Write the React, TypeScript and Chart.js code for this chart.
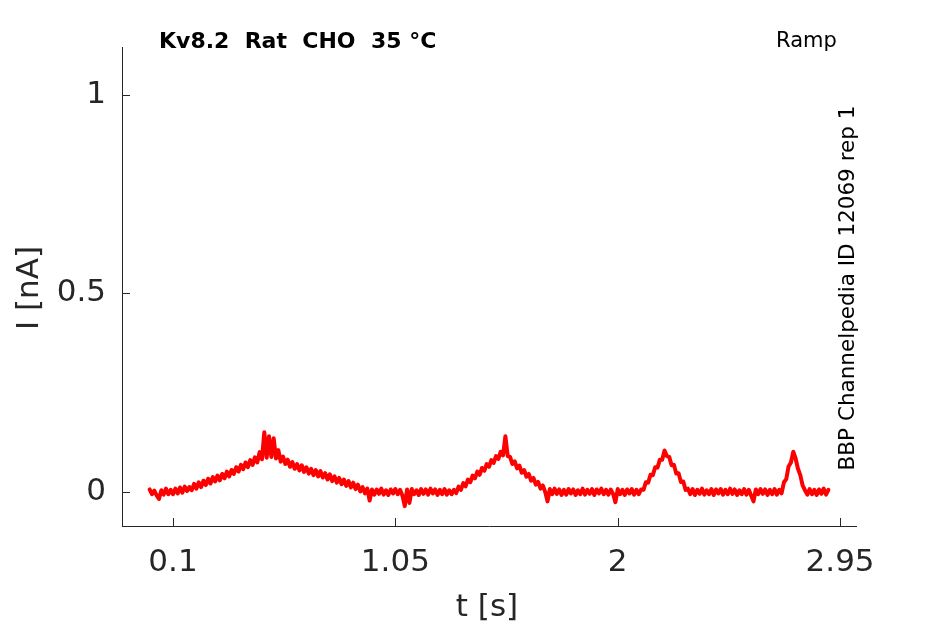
import { useEffect, useRef } from 'react';
import { Chart, registerables } from 'chart.js';

Chart.register(...registerables);

const timeS = [
  0.0, 0.01, 0.02, 0.03, 0.04, 0.05, 0.06, 0.07, 0.08, 0.09,
  0.1, 0.11, 0.12, 0.13, 0.14, 0.15, 0.16, 0.17, 0.18, 0.19,
  0.2, 0.21, 0.22, 0.23, 0.24, 0.25, 0.26, 0.27, 0.28, 0.29,
  0.3, 0.31, 0.32, 0.33, 0.34, 0.35, 0.36, 0.37, 0.38, 0.39,
  0.4, 0.41, 0.42, 0.43, 0.44, 0.45, 0.46, 0.47, 0.48, 0.49,
  0.5, 0.51, 0.52, 0.53, 0.54, 0.55, 0.56, 0.57, 0.58, 0.59,
  0.6, 0.61, 0.62, 0.63, 0.64, 0.65, 0.66, 0.67, 0.68, 0.69,
  0.7, 0.71, 0.72, 0.73, 0.74, 0.75, 0.76, 0.77, 0.78, 0.79,
  0.8, 0.81, 0.82, 0.83, 0.84, 0.85, 0.86, 0.87, 0.88, 0.89,
  0.9, 0.91, 0.92, 0.93, 0.94, 0.95, 0.96, 0.97, 0.98, 0.99,
  1.0, 1.01, 1.02, 1.03, 1.04, 1.05, 1.06, 1.07, 1.08, 1.09,
  1.1, 1.11, 1.12, 1.13, 1.14, 1.15, 1.16, 1.17, 1.18, 1.19,
  1.2, 1.21, 1.22, 1.23, 1.24, 1.25, 1.26, 1.27, 1.28, 1.29,
  1.3, 1.31, 1.32, 1.33, 1.34, 1.35, 1.36, 1.37, 1.38, 1.39,
  1.4, 1.41, 1.42, 1.43, 1.44, 1.45, 1.46, 1.47, 1.48, 1.49,
  1.5, 1.51, 1.52, 1.53, 1.54, 1.55, 1.56, 1.57, 1.58, 1.59,
  1.6, 1.61, 1.62, 1.63, 1.64, 1.65, 1.66, 1.67, 1.68, 1.69,
  1.7, 1.71, 1.72, 1.73, 1.74, 1.75, 1.76, 1.77, 1.78, 1.79,
  1.8, 1.81, 1.82, 1.83, 1.84, 1.85, 1.86, 1.87, 1.88, 1.89,
  1.9, 1.91, 1.92, 1.93, 1.94, 1.95, 1.96, 1.97, 1.98, 1.99,
  2.0, 2.01, 2.02, 2.03, 2.04, 2.05, 2.06, 2.07, 2.08, 2.09,
  2.1, 2.11, 2.12, 2.13, 2.14, 2.15, 2.16, 2.17, 2.18, 2.19,
  2.2, 2.21, 2.22, 2.23, 2.24, 2.25, 2.26, 2.27, 2.28, 2.29,
  2.3, 2.31, 2.32, 2.33, 2.34, 2.35, 2.36, 2.37, 2.38, 2.39,
  2.4, 2.41, 2.42, 2.43, 2.44, 2.45, 2.46, 2.47, 2.48, 2.49,
  2.5, 2.51, 2.52, 2.53, 2.54, 2.55, 2.56, 2.57, 2.58, 2.59,
  2.6, 2.61, 2.62, 2.63, 2.64, 2.65, 2.66, 2.67, 2.68, 2.69,
  2.7, 2.71, 2.72, 2.73, 2.74, 2.75, 2.76, 2.77, 2.78, 2.79,
  2.8, 2.81, 2.82, 2.83, 2.84, 2.85, 2.86, 2.87, 2.88, 2.89,
  2.9,
];

const currentNA = [
  0.006, -0.006, 0.003, -0.009, -0.018, 0.004, -0.007, 0.008, -0.006, 0.005,
  -0.006, 0.008, -0.004, 0.011, -0.002, 0.013, 0.002, 0.012, 0.004, 0.02,
  0.008, 0.024, 0.012, 0.028, 0.017, 0.033, 0.021, 0.037, 0.026, 0.041,
  0.029, 0.045, 0.034, 0.051, 0.039, 0.055, 0.045, 0.062, 0.051, 0.068,
  0.057, 0.074, 0.062, 0.08, 0.068, 0.087, 0.074, 0.1, 0.082, 0.15,
  0.086, 0.14, 0.088, 0.135, 0.084, 0.105, 0.076, 0.089, 0.07, 0.081,
  0.063, 0.075, 0.058, 0.07, 0.054, 0.067, 0.05, 0.062, 0.046, 0.058,
  0.042, 0.055, 0.039, 0.052, 0.036, 0.047, 0.031, 0.044, 0.027, 0.039,
  0.023, 0.035, 0.019, 0.031, 0.015, 0.027, 0.011, 0.023, 0.007, 0.018,
  0.001, 0.012, -0.004, 0.008, -0.022, 0.006, -0.007, 0.006, -0.005, 0.008,
  -0.007, 0.004, -0.008, 0.006, -0.004, 0.007, -0.006, 0.005, -0.009, -0.036,
  0.006, -0.028, 0.007, -0.006, 0.004, -0.008, 0.007, -0.005, 0.006, -0.007,
  0.008, -0.004, 0.006, -0.008, 0.005, -0.006, 0.007, -0.007, 0.004, -0.006,
  0.005, -0.003, 0.013, 0.005, 0.022, 0.014, 0.031, 0.024, 0.041, 0.034,
  0.051, 0.043, 0.06, 0.053, 0.07, 0.063, 0.08, 0.073, 0.09, 0.083,
  0.101, 0.092, 0.14, 0.09, 0.088, 0.07, 0.077, 0.059, 0.066, 0.048,
  0.055, 0.038, 0.045, 0.028, 0.035, 0.018, 0.025, 0.008, 0.016, 0.0,
  -0.024, 0.007, -0.006, 0.008, -0.005, 0.006, -0.008, 0.005, -0.007, 0.007,
  -0.004, 0.006, -0.008, 0.004, -0.006, 0.008, -0.007, 0.005, -0.005, 0.007,
  -0.008, 0.006, -0.004, 0.008, -0.006, 0.005, -0.007, 0.006, -0.005, -0.026,
  0.007, -0.006, 0.005, -0.008, 0.006, -0.004, 0.007, -0.007, 0.005, -0.006,
  0.006, 0.005, 0.024, 0.023, 0.043, 0.042, 0.062, 0.061, 0.081, 0.081,
  0.104, 0.09, 0.088, 0.067, 0.068, 0.046, 0.047, 0.025, 0.026, 0.005,
  0.008, -0.006, 0.007, -0.008, 0.005, -0.005, 0.008, -0.007, 0.004, -0.006,
  0.007, -0.008, 0.006, -0.004, 0.007, -0.007, 0.005, -0.006, 0.008, -0.005,
  0.006, -0.008, 0.004, -0.006, 0.007, -0.007, 0.005, -0.009, -0.024, 0.006,
  -0.006, 0.007, -0.005, 0.006, -0.008, 0.005, -0.006, 0.007, -0.007, 0.005,
  -0.004, 0.024, 0.032, 0.064, 0.074, 0.101, 0.084, 0.058, 0.042, 0.016,
  0.004, -0.007, 0.007, -0.006, 0.005, -0.008, 0.006, -0.005, 0.008, -0.007,
  0.005,
];

const xTicks = [0.1, 1.05, 2, 2.95];
const yTicks = [0, 0.5, 1];

const titleText = 'Kv8.2  Rat  CHO  35 °C';
const protocolText = 'Ramp';
const sourceText = 'BBP Channelpedia ID 12069 rep 1';
const xTitle = 't [s]';
const yTitle = 'I [nA]';

const FONT = '"DejaVu Sans", sans-serif';
const INK = '#262626';

const overlay = {
  id: 'overlay',
  afterDraw(chart: Chart) {
    const { ctx, chartArea } = chart;
    const x = chart.scales.x;
    const y = chart.scales.y;
    ctx.save();
    // inward tick marks
    ctx.strokeStyle = INK;
    ctx.lineWidth = 1;
    ctx.beginPath();
    xTicks.forEach((v) => {
      const px = Math.round(x.getPixelForValue(v)) + 0.5;
      ctx.moveTo(px, chartArea.bottom);
      ctx.lineTo(px, chartArea.bottom - 8);
    });
    yTicks.forEach((v) => {
      const py = Math.round(y.getPixelForValue(v)) + 0.5;
      ctx.moveTo(chartArea.left, py);
      ctx.lineTo(chartArea.left + 8, py);
    });
    ctx.stroke();

    ctx.fillStyle = '#000';
    ctx.textBaseline = 'alphabetic';
    ctx.textAlign = 'left';
    ctx.font = `bold 22px ${FONT}`;
    ctx.fillText(titleText, 159, 48);
    ctx.font = `21px ${FONT}`;
    ctx.fillText(protocolText, 776, 47);

    ctx.save();
    ctx.translate(854, 288);
    ctx.rotate(-Math.PI / 2);
    ctx.textAlign = 'center';
    ctx.font = `21.5px ${FONT}`;
    ctx.fillText(sourceText, 0, 0);
    ctx.restore();

    ctx.fillStyle = INK;
    ctx.font = `31px ${FONT}`;
    ctx.textAlign = 'center';
    ctx.fillText(xTitle, 487, 616);
    ctx.save();
    ctx.translate(38, 288);
    ctx.rotate(-Math.PI / 2);
    ctx.fillText(yTitle, 0, 0);
    ctx.restore();

    ctx.restore();
  },
};

export default function App() {
  const canvasRef = useRef<HTMLCanvasElement>(null);
  const chartRef = useRef<Chart | null>(null);

  useEffect(() => {
    document.body.style.margin = '0';
    if (!canvasRef.current) return;
    if (chartRef.current) chartRef.current.destroy();

    chartRef.current = new Chart(canvasRef.current, {
      type: 'line',
      data: {
        datasets: [
          {
            label: 'I',
            data: timeS.map((t, i) => ({ x: t, y: currentNA[i] })),
            borderColor: '#ff0000',
            borderWidth: 4,
            borderJoinStyle: 'round',
            borderCapStyle: 'round',
            pointRadius: 0,
            tension: 0,
            fill: false,
          },
        ],
      },
      options: {
        animation: false,
        responsive: true,
        maintainAspectRatio: false,
        layout: { padding: { top: 47, right: 89, left: 0, bottom: 0 } },
        plugins: {
          legend: { display: false },
          tooltip: { enabled: false },
        },
        scales: {
          x: {
            type: 'linear',
            min: -0.118,
            max: 3.018,
            afterFit: (scale) => {
              scale.height = 98;
            },
            afterBuildTicks: (scale) => {
              scale.ticks = xTicks.map((v) => ({ value: v }));
            },
            ticks: {
              color: INK,
              font: { family: FONT, size: 31 },
              padding: 18,
              maxRotation: 0,
              autoSkip: false,
              callback: (v) => String(v),
            },
            grid: { display: false, drawTicks: false },
            border: { display: true, color: INK, width: 1 },
          },
          y: {
            type: 'linear',
            min: -0.086,
            max: 1.12,
            afterFit: (scale) => {
              scale.width = 122;
            },
            afterBuildTicks: (scale) => {
              scale.ticks = yTicks.map((v) => ({ value: v }));
            },
            ticks: {
              color: INK,
              font: { family: FONT, size: 31 },
              padding: 16,
              autoSkip: false,
              callback: (v) => String(v),
            },
            grid: { display: false, drawTicks: false },
            border: { display: true, color: INK, width: 1 },
          },
        },
      },
      plugins: [overlay],
    });

    return () => {
      chartRef.current?.destroy();
      chartRef.current = null;
    };
  }, []);

  return (
    <div style={{ position: 'relative', width: 945, height: 624 }}>
      <canvas ref={canvasRef} />
    </div>
  );
}
